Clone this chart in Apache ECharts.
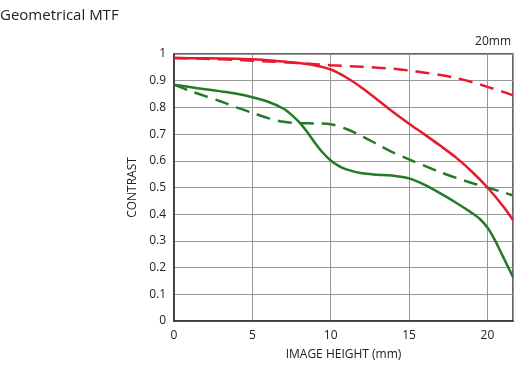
<!DOCTYPE html>
<html><head><meta charset="utf-8">
<script src="https://cdn.jsdelivr.net/npm/echarts@6/dist/echarts.min.js"></script>
<style>html,body{margin:0;padding:0;background:#fff}#c{width:514px;height:366px}</style>
</head><body><div id="c"></div>
<script>
var xTicks = [0, 5, 10, 15, 20];
var yTicks = [0, 0.1, 0.2, 0.3, 0.4, 0.5, 0.6, 0.7, 0.8, 0.9, 1];
var sagittalRedX = [0, 2, 4, 5, 6, 7, 8, 9, 10, 11, 12, 13, 14, 15, 16, 17, 18, 19, 20, 21, 21.63];
var sagittalRedY = [0.985, 0.984, 0.982, 0.980, 0.977, 0.972, 0.966, 0.957, 0.942, 0.912, 0.873, 0.828, 0.782, 0.739, 0.698, 0.656, 0.612, 0.560, 0.500, 0.430, 0.378];
var meridionalRedX = [0, 2, 4, 6, 8, 10, 12, 14, 15, 16, 17, 18, 19, 20, 21, 21.63];
var meridionalRedY = [0.985, 0.982, 0.978, 0.972, 0.966, 0.958, 0.952, 0.945, 0.938, 0.930, 0.921, 0.910, 0.895, 0.877, 0.858, 0.845];
var sagittalGreenX = [0, 1, 2, 3, 4, 5, 6, 7, 7.5, 8, 8.5, 9, 9.5, 10, 10.5, 11, 12, 13, 14, 15, 16, 17, 18, 19, 19.5, 20, 20.5, 21, 21.63];
var sagittalGreenY = [0.885, 0.876, 0.868, 0.860, 0.851, 0.838, 0.821, 0.795, 0.772, 0.744, 0.708, 0.667, 0.630, 0.601, 0.581, 0.568, 0.553, 0.548, 0.544, 0.534, 0.510, 0.478, 0.443, 0.405, 0.383, 0.350, 0.300, 0.240, 0.165];
var meridionalGreenX = [0, 1, 2, 3, 4, 5, 6, 7, 8, 9, 10, 11, 12, 13, 14, 15, 16, 17, 18, 19, 20, 21, 21.63];
var meridionalGreenY = [0.885, 0.862, 0.842, 0.822, 0.800, 0.780, 0.760, 0.746, 0.741, 0.740, 0.737, 0.719, 0.692, 0.661, 0.631, 0.605, 0.581, 0.557, 0.536, 0.517, 0.500, 0.482, 0.470];

function pts(xs, ys){ return xs.map(function(x,i){return [x, ys[i]];}); }
var RED = '#e8192c', GREEN = '#257a2a';
var chart = echarts.init(document.getElementById('c'));
var font = '"Open Sans", Roboto, sans-serif';
function line(name, xs, ys, color, dashed){
  return {name:name, type:'line', data:pts(xs,ys), smooth:0.3, symbol:'none', z:3,
    lineStyle:{color:color, width:2.5, type: dashed ? [14,8] : 'solid'}};
}
chart.setOption({
  animation:false,
  graphic:[
    {type:'text', left:0, top:8, style:{text:'Geometrical MTF', font:'15px '+font, fill:'#222'}},
    {type:'text', right:3, top:36, style:{text:'20mm', font:'12px '+font, fill:'#222'}}
  ],
  grid:{left:174, right:1, top:54, bottom:44, show:true, borderColor:'#333', borderWidth:1.5, backgroundColor:'transparent'},
  xAxis:{type:'value', min:0, max:21.63, interval:5, name:'IMAGE HEIGHT (mm)', nameLocation:'middle', nameGap:28,
    nameTextStyle:{fontFamily:font, fontSize:12, color:'#222'},
    axisLine:{show:true, lineStyle:{color:'#333', width:1.5}}, axisTick:{show:false},
    axisLabel:{fontFamily:font, fontSize:12, color:'#222', margin:9, showMaxLabel:false,
      formatter:function(v){return xTicks.indexOf(v)>=0 ? String(v) : '';}},
    splitLine:{show:true, lineStyle:{color:'#999', width:1}}},
  yAxis:{type:'value', min:0, max:1, interval:0.1, name:'CONTRAST', nameLocation:'middle', nameGap:32, nameRotate:90,
    nameTextStyle:{fontFamily:font, fontSize:12, color:'#222'},
    axisLine:{show:true, lineStyle:{color:'#333', width:1.5}}, axisTick:{show:false},
    axisLabel:{fontFamily:font, fontSize:12, color:'#222', margin:8,
      formatter:function(v){var r=Math.round(v*10)/10; return yTicks.indexOf(r)>=0 ? String(r) : '';}},
    splitLine:{show:true, lineStyle:{color:'#999', width:1}}},
  series:[
    line('R-M', meridionalRedX, meridionalRedY, RED, true),
    line('G-M', meridionalGreenX, meridionalGreenY, GREEN, true),
    line('G-S', sagittalGreenX, sagittalGreenY, GREEN, false),
    line('R-S', sagittalRedX, sagittalRedY, RED, false)
  ]
});
</script></body></html>
